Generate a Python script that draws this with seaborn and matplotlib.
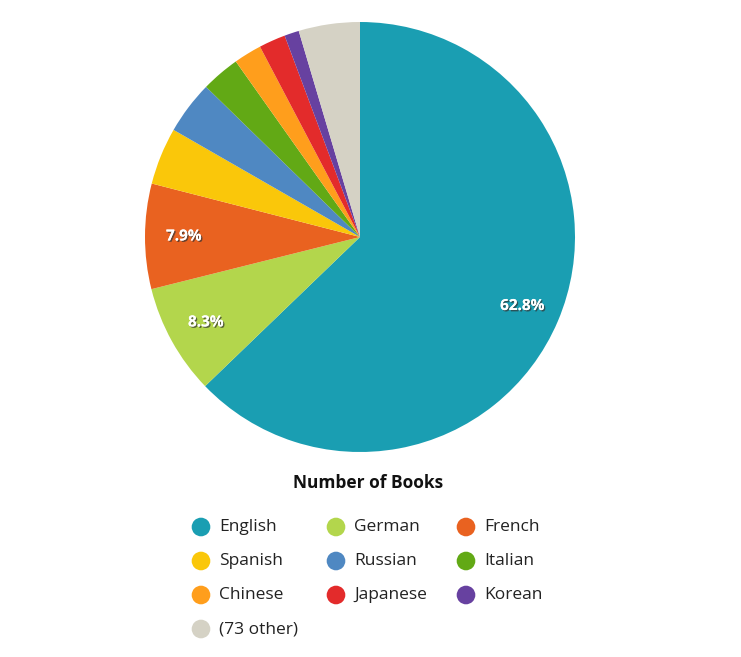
import matplotlib
matplotlib.use("Agg")
import matplotlib.pyplot as plt
import matplotlib.patheffects as pe
import seaborn as sns

languages = ["English", "German", "French", "Spanish", "Russian", "Italian",
             "Chinese", "Japanese", "Korean", "(73 other)"]
shares = [62.8, 8.3, 7.9, 4.3, 4.0, 2.9, 2.1, 2.0, 1.1, 4.6]
colors = ["#1a9eb2", "#b3d64c", "#e96220", "#fac70a", "#4f88c2", "#62a915",
          "#ff9e1c", "#e32b2b", "#6741a0", "#d5d2c5"]
legend_title = "Number of Books"

sns.set_theme(style="white")
plt.rcParams['font.family'] = ['Open Sans', 'DejaVu Sans']
palette = sns.color_palette(colors)

W, H = 741, 657
fig = plt.figure(figsize=(W / 100, H / 100), dpi=100)
cx, cy, R = 360, 237, 215
ax = fig.add_axes([(cx - R) / W, 1 - (cy + R) / H, 2 * R / W, 2 * R / H])

def fmt(p):
    return f"{p:.1f}%" if p >= 7.5 else ""

wedges, texts, autotexts = ax.pie(
    shares, colors=palette, startangle=90, counterclock=False,
    autopct=fmt, pctdistance=0.82, radius=1.0,
    wedgeprops=dict(linewidth=0),
    textprops=dict(color="white", fontsize=11, fontweight="bold"))
for t in autotexts:
    t.set_path_effects([pe.withSimplePatchShadow(offset=(1, -1), shadow_rgbFace="#333333", alpha=0.7),
                        pe.Normal()])
ax.set_xlim(-1, 1)
ax.set_ylim(-1, 1)
ax.set_aspect("equal")
ax.axis("off")

# legend drawn in pixel coordinates
lax = fig.add_axes([0, 0, 1, 1])
lax.set_xlim(0, W)
lax.set_ylim(H, 0)
lax.axis("off")
lax.text(368, 483, legend_title, ha="center", va="center", fontsize=12.5,
         fontweight="bold", color="#111111")
col_x = [201, 336, 466]
row_y = [527, 561, 595, 629]
for i, (lab, c) in enumerate(zip(languages, palette)):
    r, k = divmod(i, 3)
    x, y = col_x[k], row_y[r]
    lax.scatter([x], [y], s=180, color=c, edgecolors="none")
    lax.text(x + 18, y, lab, ha="left", va="center", fontsize=12.5, color="#222222")

fig.savefig("out.png", dpi=100)
